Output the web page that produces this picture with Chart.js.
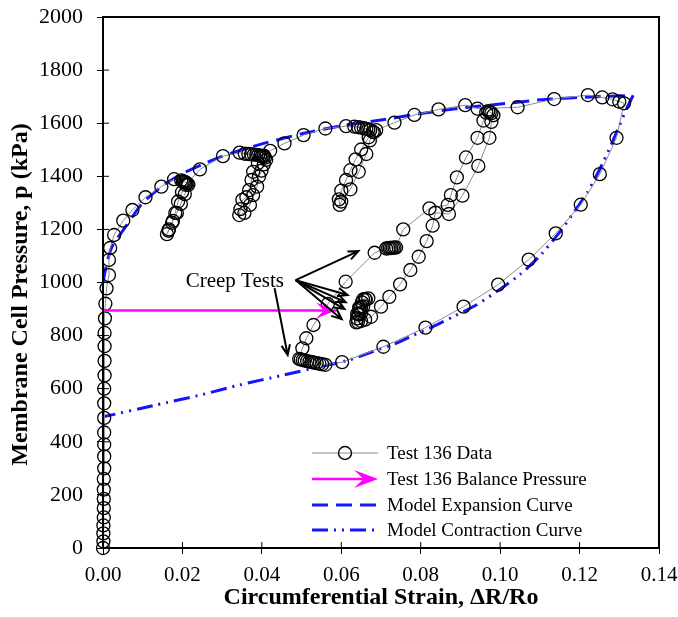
<!DOCTYPE html>
<html>
<head>
<meta charset="utf-8">
<script src="https://cdn.jsdelivr.net/npm/chart.js@4.4.0/dist/chart.umd.min.js"></script>
<style>
    body { margin: 0; background: white; }
</style>
</head>
<body>
<canvas id="pressureChart" width="678" height="617"></canvas>
<script>
// ---- Test 136 measured points (strain, pressure in kPa), in test order ----
const testStrain = [
    0.0000, 0.0001, 0.0001, 0.0001, 0.0002, 0.0002, 0.0002, 0.0002, 0.0002, 0.0003,
    0.0003, 0.0003, 0.0003, 0.0003, 0.0003, 0.0003, 0.0004, 0.0004, 0.0004, 0.0004,
    0.0005, 0.0006, 0.0009, 0.0015, 0.0015, 0.0018, 0.0028, 0.0051, 0.0074, 0.0107,
    0.0147, 0.0179,
    // creep 1 + unload/reload loop
    0.0197, 0.0201, 0.0204, 0.0207, 0.0210, 0.0213, 0.0215,
    0.0206, 0.0196, 0.0186, 0.0176, 0.0166, 0.0161,
    0.0165, 0.0174, 0.0182, 0.0189, 0.0199, 0.0208,
    0.0244, 0.0302, 0.0344,
    // creep 2 + loop
    0.0357, 0.0366, 0.0373, 0.0380, 0.0386, 0.0391, 0.0396, 0.0400, 0.0404, 0.0408, 0.0411,
    0.0405, 0.0399, 0.0393, 0.0388, 0.0378, 0.0370, 0.0356, 0.0343,
    0.0346, 0.0351, 0.0361, 0.0368, 0.0374, 0.0378, 0.0390, 0.0405,
    0.0421, 0.0457, 0.0505, 0.0560, 0.0612,
    // creep 3 + loop
    0.0633, 0.0642, 0.0650, 0.0657, 0.0663, 0.0668, 0.0673, 0.0679,
    0.0669, 0.0650, 0.0636, 0.0623, 0.0612, 0.0600, 0.0594, 0.0596,
    0.0600, 0.0623, 0.0644, 0.0663, 0.0672, 0.0682, 0.0688,
    0.0734, 0.0784, 0.0845, 0.0912, 0.0943, 0.1044, 0.1136, 0.1221, 0.1257, 0.1283,
    0.1300, 0.1312,
    // contraction
    0.1293, 0.1251, 0.1203, 0.1140, 0.1072, 0.0995, 0.0908, 0.0812, 0.0706, 0.0602,
    // creep at low pressure
    0.0560, 0.0552, 0.0545, 0.0538, 0.0532, 0.0526, 0.0520, 0.0514, 0.0508, 0.0503,
    0.0498, 0.0494,
    // reload
    0.0502, 0.0512, 0.0530, 0.0566, 0.0611, 0.0684,
    0.0713, 0.0718, 0.0722, 0.0726, 0.0730, 0.0734, 0.0738,
    0.0756, 0.0822, 0.0868, 0.0876, 0.0891, 0.0914, 0.0943, 0.0958, 0.0965,
    0.0970, 0.0974, 0.0978, 0.0983,
    // final unload and creep tests
    0.0978, 0.0973, 0.0945, 0.0905, 0.0871, 0.0837, 0.0830, 0.0815, 0.0795, 0.0774,
    0.0748, 0.0721, 0.0700, 0.0675,
    0.0660, 0.0650, 0.0642, 0.0638, 0.0640, 0.0645, 0.0650, 0.0643, 0.0640, 0.0645,
    0.0655, 0.0650, 0.0645, 0.0652, 0.0662, 0.0668, 0.0660, 0.0655
];
const testPressure = [
    0, 25, 55, 85, 115, 150, 185, 220, 260, 300,
    345, 390, 435, 490, 545, 600, 650, 705, 760, 810,
    865, 920, 978, 1028, 1085, 1130, 1179, 1233, 1273, 1321,
    1361, 1389,
    1385, 1382, 1380, 1378, 1375, 1372, 1368,
    1333, 1296, 1262, 1232, 1200, 1182,
    1195, 1225, 1262, 1305, 1340, 1368,
    1426, 1476, 1489,
    1485, 1484, 1483, 1482, 1481, 1480, 1478, 1476, 1474, 1470, 1462,
    1445, 1421, 1399, 1361, 1329, 1292, 1262, 1254,
    1276, 1311, 1321, 1348, 1386, 1417, 1450, 1478,
    1496, 1524, 1555, 1580, 1589,
    1587, 1585, 1583, 1581, 1579, 1577, 1574, 1568,
    1547, 1501, 1464, 1423, 1386, 1346, 1313, 1292,
    1305, 1351, 1417, 1484, 1535, 1566, 1574,
    1602, 1631, 1652, 1668, 1655, 1660, 1691, 1706, 1697, 1690,
    1681, 1675,
    1545, 1408, 1293, 1185, 1086, 992, 909, 830, 758, 700,
    690, 692, 694, 696, 698, 700, 702, 704, 706, 708,
    710, 712,
    752, 790, 840, 919, 1003, 1112,
    1128, 1129, 1130, 1130, 1131, 1131, 1132,
    1200, 1279, 1292, 1329, 1396, 1471, 1545, 1610, 1640,
    1645, 1642, 1638, 1630,
    1605, 1545, 1439, 1327, 1258, 1263, 1214, 1156, 1097, 1047,
    993, 946, 909, 871,
    860, 855, 852, 850, 865, 880, 885, 883, 882, 900,
    910, 908, 906, 925, 935, 940, 938, 936
];

// ---- model curves ----
const expStrain = [0, 0.0005, 0.001, 0.002, 0.003, 0.005, 0.0075, 0.01, 0.015, 0.02, 0.025,
    0.03, 0.035, 0.04, 0.05, 0.06, 0.07, 0.08, 0.09, 0.10, 0.11, 0.12, 0.1335];
const expPressure = [1000, 1040, 1075, 1125, 1155, 1195, 1250, 1300, 1365, 1410, 1445,
    1475, 1500, 1522, 1560, 1590, 1612, 1636, 1657, 1672, 1688, 1697, 1705];

const conStrain = [0.1335, 0.132, 0.130, 0.128, 0.126, 0.124, 0.122, 0.120, 0.115, 0.110,
    0.105, 0.100, 0.094, 0.088, 0.083, 0.078, 0.0738, 0.068, 0.062, 0.0554, 0.045, 0.0344,
    0.025, 0.0135, 0];
const conPressure = [1705, 1660, 1590, 1520, 1455, 1395, 1340, 1295, 1190, 1100,
    1030, 975, 915, 870, 833, 800, 771, 740, 708, 685, 650, 614,
    578, 539, 494];

// balance pressure arrow (start, tip)
const balanceStrain = [0, 0.0587];
const balancePressure = [895, 895];

// creep test annotation: label position, arrow tails and tips
const creepLabel = { x: 0.0332, y: 1002, text: 'Creep Tests' };
const creepTailX = [0.0485, 0.0485, 0.0485, 0.0485, 0.0485, 0.0432];
const creepTailY = [1009, 1009, 1009, 1009, 1009, 979];
const creepTipX = [0.0643, 0.0616, 0.0611, 0.0608, 0.0601, 0.0465];
const creepTipY = [1118, 953, 926, 900, 862, 727];

// ticks
const xTicks = [0, 0.02, 0.04, 0.06, 0.08, 0.10, 0.12, 0.14];
const yTicks = [0, 200, 400, 600, 800, 1000, 1200, 1400, 1600, 1800, 2000];

const toPoints = (xs, ys) => xs.map((v, i) => ({ x: v, y: ys[i] }));

const serif = 'Liberation Serif';
const blue = '#1414ff';
const magenta = '#ff00ff';

// stealth shaped arrow head, tip at (x, y), pointing in direction ang
function arrowHead(ctx, x, y, ang, len, half, color) {
    ctx.save();
    ctx.translate(x, y);
    ctx.rotate(ang);
    ctx.fillStyle = color;
    ctx.beginPath();
    ctx.moveTo(0, 0);
    ctx.lineTo(-len, -half);
    ctx.lineTo(-len * 0.6, 0);
    ctx.lineTo(-len, half);
    ctx.closePath();
    ctx.fill();
    ctx.restore();
}

// open V arrow head for annotation lines
function openArrow(ctx, x0, y0, x1, y1) {
    const ang = Math.atan2(y1 - y0, x1 - x0);
    ctx.beginPath();
    ctx.moveTo(x0, y0);
    ctx.lineTo(x1, y1);
    ctx.moveTo(x1 - 11 * Math.cos(ang - 0.4), y1 - 11 * Math.sin(ang - 0.4));
    ctx.lineTo(x1, y1);
    ctx.lineTo(x1 - 11 * Math.cos(ang + 0.4), y1 - 11 * Math.sin(ang + 0.4));
    ctx.stroke();
}

const extras = {
    id: 'extras',
    afterDatasetsDraw(chart) {
        const { ctx, chartArea: a, scales: { x, y } } = chart;
        ctx.save();

        // balance pressure arrow head
        arrowHead(ctx, x.getPixelForValue(balanceStrain[1]), y.getPixelForValue(balancePressure[1]),
            0, 20, 8, magenta);

        // frame around plot
        ctx.strokeStyle = 'black';
        ctx.lineWidth = 2;
        ctx.strokeRect(a.left, a.top, a.right - a.left, a.bottom - a.top);

        // inner tick marks
        ctx.lineWidth = 1;
        ctx.beginPath();
        xTicks.forEach(function (t) {
            const px = x.getPixelForValue(t);
            ctx.moveTo(px, a.bottom);
            ctx.lineTo(px, a.bottom - 6);
        });
        yTicks.forEach(function (t) {
            const py = y.getPixelForValue(t);
            ctx.moveTo(a.left, py);
            ctx.lineTo(a.left + 6, py);
        });
        ctx.stroke();

        // creep test label and arrows
        ctx.fillStyle = 'black';
        ctx.font = '21px ' + serif;
        ctx.textAlign = 'center';
        ctx.textBaseline = 'middle';
        ctx.fillText(creepLabel.text, x.getPixelForValue(creepLabel.x), y.getPixelForValue(creepLabel.y));
        ctx.lineWidth = 2;
        for (let i = 0; i < creepTipX.length; i++) {
            openArrow(ctx,
                x.getPixelForValue(creepTailX[i]), y.getPixelForValue(creepTailY[i]),
                x.getPixelForValue(creepTipX[i]), y.getPixelForValue(creepTipY[i]));
        }

        // legend
        const lx0 = a.left + 209;
        const lx1 = a.left + 275;
        const textX = a.left + 284;
        const rows = [a.top + 436, a.top + 462, a.top + 488, a.top + 513];
        ctx.textAlign = 'left';
        ctx.font = '19px ' + serif;
        chart.data.datasets.forEach(function (ds, i) {
            const ry = rows[i];
            ctx.save();
            ctx.strokeStyle = ds.borderColor;
            ctx.lineWidth = ds.borderWidth;
            ctx.setLineDash(ds.borderDash || []);
            ctx.beginPath();
            ctx.moveTo(lx0, ry);
            ctx.lineTo(i === 1 ? lx1 - 12 : lx1, ry);
            ctx.stroke();
            ctx.setLineDash([]);
            if (i === 0) {
                ctx.strokeStyle = 'black';
                ctx.lineWidth = 1.4;
                ctx.beginPath();
                ctx.arc((lx0 + lx1) / 2, ry, 6.5, 0, Math.PI * 2);
                ctx.stroke();
            }
            if (i === 1) {
                arrowHead(ctx, lx1, ry, 0, 24, 9, magenta);
            }
            ctx.restore();
            ctx.fillStyle = 'black';
            ctx.fillText(ds.label, textX, ry + 1);
        });

        ctx.restore();
    }
};

const config = {
    type: 'line',
    data: {
        datasets: [
            {
                label: 'Test 136 Data',
                data: toPoints(testStrain, testPressure),
                borderColor: '#8c8c8c',
                borderWidth: 1,
                pointRadius: 6.5,
                pointBorderColor: 'black',
                pointBorderWidth: 1.3,
                pointBackgroundColor: 'rgba(0,0,0,0)',
                tension: 0,
                clip: false,
                order: 1
            },
            {
                label: 'Test 136 Balance Pressure',
                data: toPoints(balanceStrain, balancePressure),
                borderColor: magenta,
                borderWidth: 2.5,
                pointRadius: 0,
                clip: false,
                order: 0
            },
            {
                label: 'Model Expansion Curve',
                data: toPoints(expStrain, expPressure),
                borderColor: blue,
                borderWidth: 3,
                borderDash: [16, 8],
                pointRadius: 0,
                tension: 0.2,
                order: 2
            },
            {
                label: 'Model Contraction Curve',
                data: toPoints(conStrain, conPressure),
                borderColor: blue,
                borderWidth: 3,
                borderDash: [16, 6, 2, 6, 2, 6],
                pointRadius: 0,
                tension: 0.2,
                order: 2
            }
        ]
    },
    options: {
        responsive: false,
        animation: false,
        layout: { padding: { top: 17, right: 19, left: 0, bottom: 0 } },
        plugins: {
            legend: { display: false },
            tooltip: { enabled: false }
        },
        scales: {
            x: {
                type: 'linear',
                min: 0,
                max: 0.14,
                afterFit: function (scale) {
                    scale.height = 69;
                    scale.paddingLeft = 0;
                    scale.paddingRight = 0;
                },
                afterBuildTicks: function (scale) { scale.ticks = xTicks.map(v => ({ value: v })); },
                border: { display: true, color: 'black', width: 2 },
                grid: { drawOnChartArea: false, drawTicks: true, tickLength: 6, color: 'black' },
                ticks: {
                    color: 'black',
                    padding: 9,
                    maxRotation: 0,
                    font: { family: serif, size: 21 },
                    callback: v => v.toFixed(2)
                },
                title: {
                    display: true,
                    text: 'Circumferential Strain, \u0394R/Ro',
                    color: 'black',
                    padding: { top: 0, bottom: 5 },
                    font: { family: serif, size: 24, weight: 'bold' }
                }
            },
            y: {
                type: 'linear',
                min: 0,
                max: 2000,
                afterFit: function (scale) {
                    scale.width = 103;
                    scale.paddingTop = 0;
                    scale.paddingBottom = 0;
                },
                afterBuildTicks: function (scale) { scale.ticks = yTicks.map(v => ({ value: v })); },
                border: { display: true, color: 'black', width: 2 },
                grid: { drawOnChartArea: false, drawTicks: true, tickLength: 6, color: 'black' },
                ticks: {
                    color: 'black',
                    padding: 14,
                    font: { family: serif, size: 22 },
                    callback: v => String(v)
                },
                title: {
                    display: true,
                    // trailing spaces push the rotated title a little lower, as in the original
                    text: 'Membrane Cell Pressure, p (kPa)\u00a0\u00a0\u00a0\u00a0',
                    color: 'black',
                    padding: { top: 6, bottom: 0 },
                    font: { family: serif, size: 24, weight: 'bold' }
                }
            }
        }
    },
    plugins: [extras]
};

const myChart = new Chart(document.getElementById('pressureChart'), config);
</script>
</body>
</html>
